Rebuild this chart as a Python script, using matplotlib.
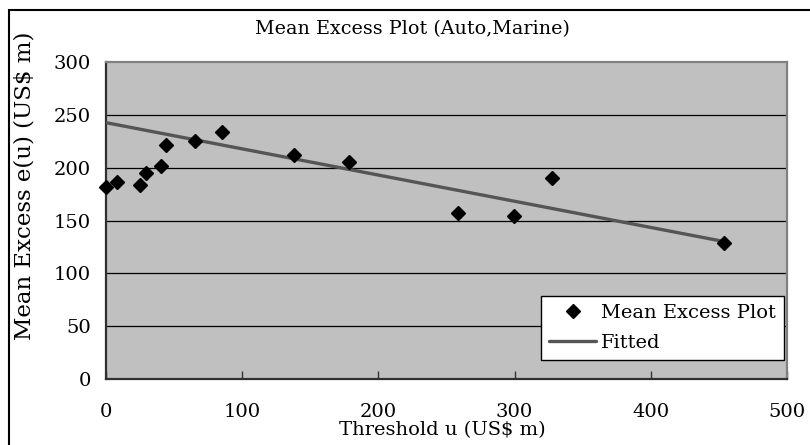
import matplotlib
matplotlib.use("Agg")
import matplotlib.pyplot as plt
from matplotlib.patches import Rectangle

# Data
threshold = [0, 8, 25, 29.6, 40.7, 43.8, 65.2, 85.5, 137.7, 178.7, 258.3, 299.5, 327.4, 453.7]
mean_excess = [181.5, 186, 183.5, 194.7, 201.8, 221, 225.4, 233.5, 212.3, 205.4, 156.7, 154.3, 189.8, 128.7]
fit_x = [0, 453.7]
fit_y = [242.6, 130.1]
x_ticks = [0, 100, 200, 300, 400, 500]
y_ticks = [0, 50, 100, 150, 200, 250, 300]

plt.rcParams['font.family'] = ['DejaVu Serif']

W, H = 810, 445
fig = plt.figure(figsize=(W / 100, H / 100), dpi=100)
fig.patch.set_facecolor('white')

# outer border (only left/top visible)
fig.patches.append(Rectangle((8.5 / W, -0.1), 1.2, 1 - 9.5 / H + 0.1, transform=fig.transFigure,
                             fill=False, edgecolor='black', linewidth=1.5, zorder=0))

ax = fig.add_axes([106 / W, 1 - 379 / H, (787 - 106) / W, (379 - 62) / H])
ax.set_facecolor('#C0C0C0')
ax.set_xlim(0, 500)
ax.set_ylim(0, 300)
ax.set_xticks(x_ticks)
ax.set_yticks(y_ticks)
ax.set_yticklabels([str(v) for v in y_ticks])
ax.set_xticklabels([str(v) for v in x_ticks])

for yv in y_ticks[1:-1]:
    ax.axhline(yv, color='black', linewidth=0.9, zorder=1)

ax.tick_params(axis='x', direction='in', length=6, width=1, color='#333333', pad=17, labelsize=14)
ax.tick_params(axis='y', length=0, pad=11, labelsize=14)

for s in ['left', 'bottom']:
    ax.spines[s].set_color('#303030')
    ax.spines[s].set_linewidth(1.6)
for s in ['top', 'right']:
    ax.spines[s].set_color('#808080')
    ax.spines[s].set_linewidth(1.6)

ax.plot(fit_x, fit_y, color='#555555', linewidth=2.4, zorder=3, label='Fitted',
        solid_capstyle='round')
ax.plot(threshold, mean_excess, linestyle='none', marker='D', markersize=7.4,
        color='black', zorder=4, label='Mean Excess Plot', clip_on=False)

handles, labels = ax.get_legend_handles_labels()
leg = ax.legend(handles[::-1], labels[::-1], loc='lower right',
                bbox_to_anchor=(0.9956, 0.06), borderaxespad=0, fontsize=14,
                frameon=True, fancybox=False, framealpha=1, edgecolor='black',
                handlelength=2.4, handletextpad=0.25, borderpad=0.42, labelspacing=0.62)
leg.get_frame().set_linewidth(1.0)

fig.text(412 / W, 1 - 29 / H, 'Mean Excess Plot (Auto,Marine)', ha='center', va='center',
         fontsize=13.8)
fig.text(442 / W, 1 - 430 / H, 'Threshold u (US$ m)', ha='center', va='center', fontsize=14)
fig.text(25 / W, 1 - 186 / H, 'Mean Excess e(u) (US$ m)', ha='center', va='center',
         rotation=90, fontsize=16.5)

fig.savefig('out.png', dpi=100)
